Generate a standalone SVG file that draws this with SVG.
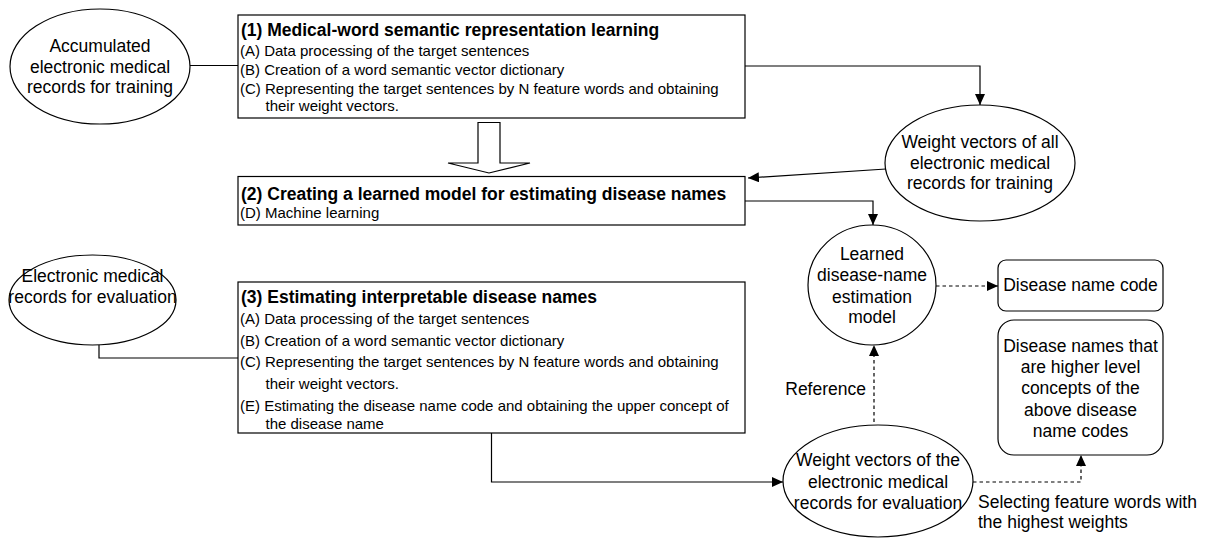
<svg xmlns="http://www.w3.org/2000/svg" width="1207" height="538" viewBox="0 0 1207 538">
<style>
.shape{fill:#fff;stroke:#000;stroke-width:1.2}
.conn{fill:none;stroke:#000;stroke-width:1.2}
.dash{stroke-dasharray:3.5 3}
text{font-family:"Liberation Sans",Arial,sans-serif;fill:#000}
.t{font-size:17.5px;text-anchor:middle}
.b{font-size:15px}
.h{font-size:17.5px;font-weight:bold}
.l{font-size:17.5px}
</style>
<defs>
<marker id="ah" markerUnits="userSpaceOnUse" markerWidth="12" markerHeight="11" refX="11" refY="5" orient="auto">
<path d="M0,0 L11,5 L0,10 z" fill="#000"/>
</marker>
</defs>
<rect width="1207" height="538" fill="#fff"/>
<g id="connectors">
<path class="conn" d="M190,65.5 H238"/>
<path class="conn" d="M745,66 H980 V105" marker-end="url(#ah)"/>
<path class="conn" d="M886,169 L748,178" marker-end="url(#ah)"/>
<path class="conn" d="M745,201 H873 V225" marker-end="url(#ah)"/>
<path class="conn dash" d="M936,286 H998" marker-end="url(#ah)"/>
<path class="conn" d="M99,345 V358 H238"/>
<path class="conn" d="M491.5,433 V482 H783" marker-end="url(#ah)"/>
<path class="conn dash" d="M874,422 V345" marker-end="url(#ah)"/>
<path class="conn dash" d="M973,482 H1081 V455" marker-end="url(#ah)"/>
<polygon class="shape" points="478,122.5 500,122.5 500,163 530,163 489,173 448,163 478,163"/>
<text class="l" x="866" y="395" text-anchor="end">Reference</text>
<text class="l" x="978" y="508">Selecting feature words with</text>
<text class="l" x="978" y="528">the highest weights</text>
</g>
<g id="accumulated">
<ellipse class="shape" cx="100" cy="66.5" rx="90" ry="57.5"/>
<text class="t" x="100" y="52">Accumulated</text>
<text class="t" x="100" y="73">electronic medical</text>
<text class="t" x="100" y="93">records for training</text>
</g>
<g id="box1">
<rect class="shape" x="238" y="15" width="507" height="103"/>
<text class="h" x="241" y="36">(1) Medical-word semantic representation learning</text>
<text class="b" x="240" y="56">(A) Data processing of the target sentences</text>
<text class="b" x="240" y="75">(B) Creation of a word semantic vector dictionary</text>
<text class="b" x="240" y="93.5">(C) Representing the target sentences by N feature words and obtaining</text>
<text class="b" x="265.5" y="111">their weight vectors.</text>
</g>
<g id="box2">
<rect class="shape" x="238" y="176.5" width="507" height="48.5"/>
<text class="h" x="241" y="200">(2) Creating a learned model for estimating disease names</text>
<text class="b" x="240" y="217.5">(D) Machine learning</text>
</g>
<g id="training-vectors">
<ellipse class="shape" cx="980" cy="163" rx="95" ry="58"/>
<text class="t" x="980" y="148">Weight vectors of all</text>
<text class="t" x="980" y="169">electronic medical</text>
<text class="t" x="980" y="189">records for training</text>
</g>
<g id="eval-records">
<ellipse class="shape" cx="92.5" cy="300" rx="83.5" ry="45"/>
<text class="t" x="92.5" y="282">Electronic medical</text>
<text class="t" x="92.5" y="303">records for evaluation</text>
</g>
<g id="box3">
<rect class="shape" x="238" y="282" width="507" height="151"/>
<text class="h" x="241" y="303">(3) Estimating interpretable disease names</text>
<text class="b" x="240" y="324">(A) Data processing of the target sentences</text>
<text class="b" x="240" y="346">(B) Creation of a word semantic vector dictionary</text>
<text class="b" x="240" y="367">(C) Representing the target sentences by N feature words and obtaining</text>
<text class="b" x="265.5" y="389">their weight vectors.</text>
<text class="b" x="240" y="410.5">(E) Estimating the disease name code and obtaining the upper concept of</text>
<text class="b" x="265.5" y="429">the disease name</text>
</g>
<g id="learned-model">
<ellipse class="shape" cx="872" cy="285" rx="64" ry="60"/>
<text class="t" x="872" y="260">Learned</text>
<text class="t" x="872" y="281">disease-name</text>
<text class="t" x="872" y="303">estimation</text>
<text class="t" x="872" y="323">model</text>
</g>
<g id="disease-code">
<rect class="shape" x="998" y="260" width="165" height="51" rx="8"/>
<text class="t" x="1080.5" y="291">Disease name code</text>
</g>
<g id="disease-names">
<rect class="shape" x="998" y="320" width="165" height="135" rx="16"/>
<text class="t" x="1080.5" y="352">Disease names that</text>
<text class="t" x="1080.5" y="373">are higher level</text>
<text class="t" x="1080.5" y="394">concepts of the</text>
<text class="t" x="1080.5" y="416">above disease</text>
<text class="t" x="1080.5" y="437">name codes</text>
</g>
<g id="eval-vectors">
<ellipse class="shape" cx="878" cy="481" rx="95" ry="56"/>
<text class="t" x="878" y="466">Weight vectors of the</text>
<text class="t" x="878" y="488">electronic medical</text>
<text class="t" x="878" y="509">records for evaluation</text>
</g>
</svg>
